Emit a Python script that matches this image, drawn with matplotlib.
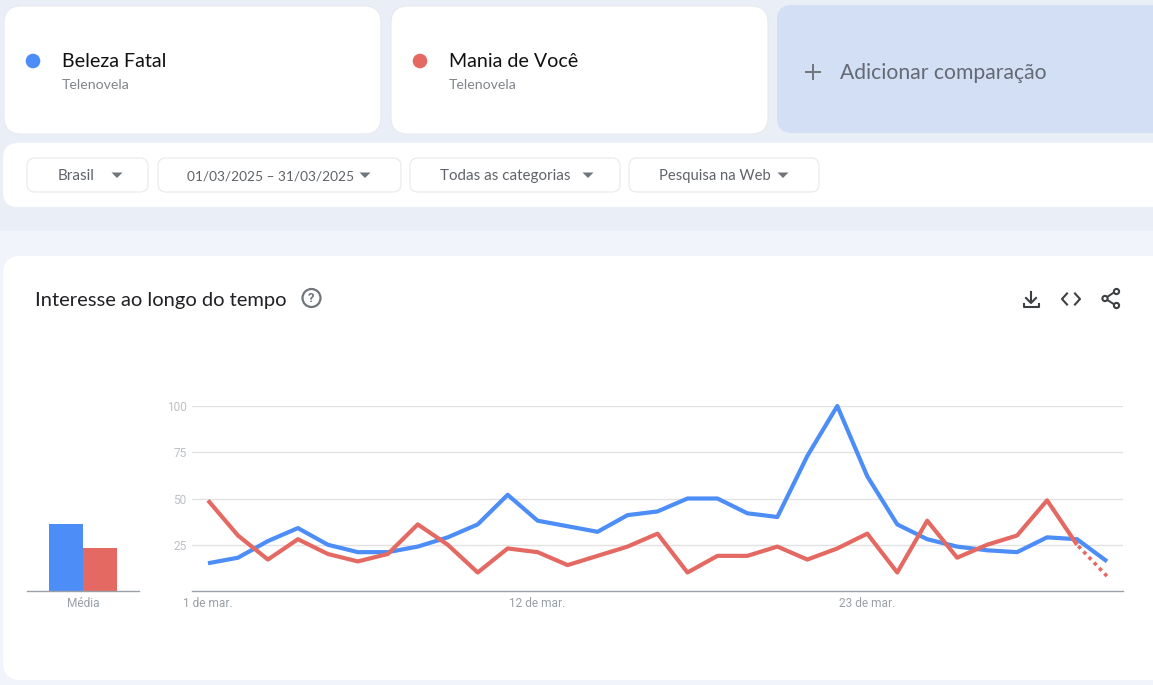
import matplotlib
matplotlib.use("Agg")
import matplotlib.pyplot as plt
from matplotlib.patches import FancyBboxPatch, Circle, Polygon, Rectangle

# ---- data ----
series_names = ["Beleza Fatal", "Mania de Você"]
series_type = "Telenovela"
days = list(range(1, 32))
beleza = [15, 18, 27, 34, 25, 21, 21, 24, 29, 36, 52, 38, 35, 32, 41, 43,
          50, 50, 42, 40, 73, 100, 62, 36, 28, 24, 22, 21, 29, 28, 16]
mania = [49, 30, 17, 28, 20, 16, 20, 36, 25, 10, 23, 21, 14, 19, 24, 31,
         10, 19, 19, 24, 17, 23, 31, 10, 38, 18, 25, 30, 49, 25]
mania_partial_days = [30, 31]
mania_partial = [25, 8]
averages = [36, 23]
y_ticks = [25, 50, 75, 100]
x_tick_days = [1, 12, 23]
x_tick_labels = ["1 de mar.", "12 de mar.", "23 de mar."]
filters = ["Brasil", "01/03/2025 – 31/03/2025", "Todas as categorias", "Pesquisa na Web"]
filter_sizes = [10.9, 9.9, 10.9, 10.6]
title = "Interesse ao longo do tempo"
add_label = "Adicionar comparação"
avg_label = "Média"

# ---- style ----
W, H = 1153, 685
BLUE = "#4D8DF8"
RED = "#E46962"
UI_FONT = ["Lato", "DejaVu Sans"]
TICK_FONT = ["Roboto", "DejaVu Sans"]

fig = plt.figure(figsize=(W / 100, H / 100), dpi=100, facecolor="#E9EEF7")
bg = fig.add_axes([0, 0, 1, 1])
bg.set_xlim(0, W)
bg.set_ylim(H, 0)
bg.axis("off")


def card(x0, y0, x1, y1, r, fc, ec="none", lw=1.0):
    bg.add_patch(FancyBboxPatch((x0 + r, y0 + r), x1 - x0 - 2 * r, y1 - y0 - 2 * r,
                                boxstyle=f"round,pad={r},rounding_size={r}",
                                fc=fc, ec=ec, lw=lw))


bg.add_patch(Rectangle((0, 231), W, H - 231, fc="#F1F4FA", ec="none"))
card(4, 6, 381, 134, 17, "white", "#E8EAEE", 0.8)
card(391, 6, 768, 134, 17, "white", "#E8EAEE", 0.8)
card(777, 5, 1175, 133, 15, "#D3DFF5")
card(3, 143, 1175, 207, 15, "white")
card(3, 256, 1175, 680, 18, "white")

# term cards
for cx, tx, name, col in [(33, 62, series_names[0], BLUE), (420, 449, series_names[1], RED)]:
    bg.add_patch(Circle((cx, 61), 7.3, fc=col, ec="none"))
    bg.text(tx, 61.5, name, fontsize=14.1, color="#111111", family=UI_FONT, va="center", ha="left")
    bg.text(tx, 85, series_type, fontsize=10.2, color="#80868B", family=UI_FONT, va="center", ha="left")

# add comparison
bg.plot([806, 820], [72, 72], color="#70757A", lw=1.4)
bg.plot([813, 813], [65, 79], color="#70757A", lw=1.4)
bg.text(840, 73, add_label, fontsize=15.2, color="#646A73", family=UI_FONT, va="center", ha="left")

# filter buttons
buttons = [(27, 148, 76, 117), (158, 401, 270.5, 365), (410, 620, 505, 588), (629, 819, 715, 783)]
for (x0, x1, tx, ax_), lab, fs in zip(buttons, filters, filter_sizes):
    card(x0, 158, x1, 192, 8, "white", "#E8E9EC", 0.8)
    bg.text(tx, 176, lab, fontsize=fs, color="#5F6368", family=UI_FONT, va="center", ha="center")
    bg.add_patch(Polygon([[ax_ - 5.5, 172.5], [ax_ + 5.5, 172.5], [ax_, 178]], fc="#70757A", ec="none"))

# chart heading
bg.text(35, 300.5, title, fontsize=14.5, color="#202124", family=UI_FONT, va="center", ha="left")
bg.add_patch(Circle((311.5, 298), 9, fc="none", ec="#70757A", lw=1.6))
bg.text(311.5, 298, "?", fontsize=9.5, color="#70757A", family=TICK_FONT, weight="bold", va="center", ha="center")

# action icons
ICON = "#3C4043"
bg.plot([1031, 1031], [292, 302], color=ICON, lw=1.5)
bg.plot([1026, 1031, 1036], [298, 303, 298], color=ICON, lw=1.5)
bg.plot([1023.5, 1023.5, 1038.5, 1038.5], [304, 307, 307, 304], color=ICON, lw=1.5)
bg.plot([1067, 1062, 1067], [293.5, 299, 304.5], color=ICON, lw=1.5)
bg.plot([1075, 1080, 1075], [293.5, 299, 304.5], color=ICON, lw=1.5)
bg.plot([1116, 1105, 1116], [291, 298.5, 305.5], color=ICON, lw=1.4)
for cx, cy in [(1116.5, 291.5), (1105, 298.5), (1116.5, 305.5)]:
    bg.add_patch(Circle((cx, cy), 2.6, fc="white", ec=ICON, lw=1.5, zorder=3))

# ---- line chart ----
PLOT_L, PLOT_R, PLOT_T, PLOT_B = 192, 1123, 406, 591
ax = fig.add_axes([PLOT_L / W, 1 - PLOT_B / H, (PLOT_R - PLOT_L) / W, (PLOT_B - PLOT_T) / H])
ax.patch.set_alpha(0)
step = (1107 - 208) / 30
ax.set_xlim(1 - (208 - PLOT_L) / step, 1 + (PLOT_R - 208) / step)
ax.set_ylim(0, 100)
for s in ["top", "left", "right"]:
    ax.spines[s].set_visible(False)
ax.spines["bottom"].set_color("#9AA0A6")
ax.spines["bottom"].set_linewidth(1.0)
ax.set_yticks(y_ticks)
ax.set_xticks(x_tick_days)
ax.set_xticklabels(x_tick_labels)
ax.grid(axis="y", color="#E2E2E2", lw=1.0)
ax.set_axisbelow(True)
ax.tick_params(axis="both", length=0, labelsize=8.6, labelfontfamily="Roboto")
ax.tick_params(axis="y", pad=4, labelcolor="#BDC1C6")
ax.tick_params(axis="x", pad=4, labelcolor="#9AA0A6")

ax.plot(days, beleza, color=BLUE, lw=3.0, clip_on=False, solid_joinstyle="round",
        solid_capstyle="butt", zorder=3)
ax.plot(days[:len(mania)], mania, color=RED, lw=3.0, clip_on=False, solid_joinstyle="round",
        solid_capstyle="butt", zorder=4)
ax.plot(mania_partial_days, mania_partial, color=RED, lw=2.6, clip_on=False,
        linestyle=(1.6, (1, 1.1)), dash_capstyle="butt", zorder=4)

# ---- average bars ----
BAR_L, BAR_R = 27, 139
bx = fig.add_axes([BAR_L / W, 1 - PLOT_B / H, (BAR_R - BAR_L) / W, (PLOT_B - PLOT_T) / H])
bx.patch.set_alpha(0)
bx.set_xlim(0, 112)
bx.set_ylim(0, 100)
for s in ["top", "left", "right"]:
    bx.spines[s].set_visible(False)
bx.spines["bottom"].set_color("#9AA0A6")
bx.spines["bottom"].set_linewidth(1.0)
bx.bar([39, 73], averages, width=34, color=[BLUE, RED])
bx.set_yticks([])
bx.set_xticks([56])
bx.set_xticklabels([avg_label])
bx.tick_params(axis="x", length=0, pad=4, labelsize=8.6, labelcolor="#9AA0A6", labelfontfamily="Roboto")

fig.savefig("out.png", dpi=100, facecolor=fig.get_facecolor())
